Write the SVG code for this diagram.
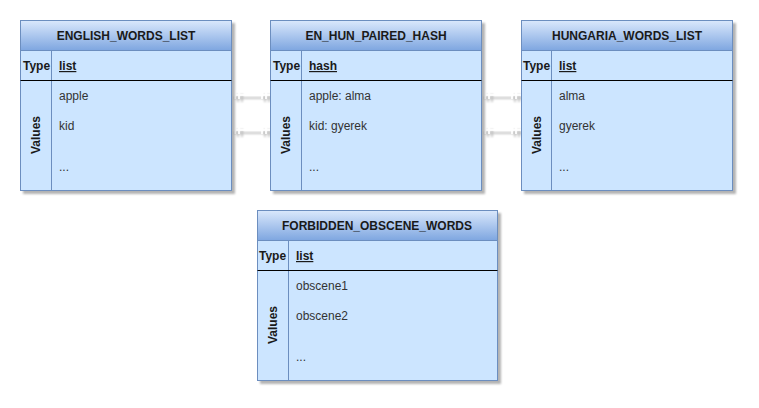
<svg xmlns="http://www.w3.org/2000/svg" width="759" height="408" viewBox="0 0 759 408">
<defs>
<linearGradient id="hg" x1="0" y1="0" x2="0" y2="1">
<stop offset="0" stop-color="#dae8fc"/>
<stop offset="1" stop-color="#7ea6e0"/>
</linearGradient>
<filter id="sh" x="-10%" y="-10%" width="130%" height="130%">
<feGaussianBlur in="SourceAlpha" stdDeviation="1"/>
<feOffset dx="3" dy="3" result="o"/>
<feComponentTransfer><feFuncA type="linear" slope="0.3"/></feComponentTransfer>
<feMerge><feMergeNode/><feMergeNode in="SourceGraphic"/></feMerge>
</filter>
</defs>
<style>
text{font-family:"Liberation Sans",Arial,sans-serif;font-size:12px;fill:#1a1a1a}
.b{font-weight:bold}
.it{fill:#333}
.u{text-decoration:underline}
.box{fill:#cce5ff;stroke:#6c8ebf;stroke-width:1}
.hd{fill:url(#hg);stroke:#6c8ebf;stroke-width:1}
.ln{stroke:#6c8ebf;stroke-width:1}
.bk{stroke:#000;stroke-width:1}
.c{stroke:#ffffff;stroke-width:1.5;fill:none}
</style>
<g id="connectors" filter="url(#sh)">
<path class="c" d="M231 95 H270 M235 91 V99 M239 91 V99 M262 91 V99 M266 91 V99"/>
<path class="c" d="M231 130 H270 M235 126 V134 M239 126 V134 M262 126 V134 M266 126 V134"/>
<path class="c" d="M481 95 H521 M485 91 V99 M489 91 V99 M512 91 V99 M516 91 V99"/>
<path class="c" d="M481 130 H521 M485 126 V134 M489 126 V134 M512 126 V134 M516 126 V134"/>
</g>
<g id="english_words_list">
<g filter="url(#sh)"><rect class="box" x="20.5" y="20.5" width="211" height="170"/></g>
<rect class="hd" x="20.5" y="20.5" width="211" height="30"/>
<line class="ln" x1="51.5" y1="50.5" x2="51.5" y2="190.5"/>
<line class="bk" x1="20.5" y1="80.5" x2="231.5" y2="80.5"/>
<text class="b" x="126" y="39.5" text-anchor="middle">ENGLISH_WORDS_LIST</text>
<text class="b" x="23" y="70">Type</text>
<text class="b u" x="59" y="70">list</text>
<text class="b" transform="translate(40 135) rotate(-90)" text-anchor="middle">Values</text>
<text class="it" x="59" y="100">apple</text>
<text class="it" x="59" y="130">kid</text>
<text class="it" x="59" y="171">...</text>
</g>
<g id="en_hun_paired_hash">
<g filter="url(#sh)"><rect class="box" x="270.5" y="20.5" width="211" height="170"/></g>
<rect class="hd" x="270.5" y="20.5" width="211" height="30"/>
<line class="ln" x1="301.5" y1="50.5" x2="301.5" y2="190.5"/>
<line class="bk" x1="270.5" y1="80.5" x2="481.5" y2="80.5"/>
<text class="b" x="376" y="39.5" text-anchor="middle">EN_HUN_PAIRED_HASH</text>
<text class="b" x="273" y="70">Type</text>
<text class="b u" x="309" y="70">hash</text>
<text class="b" transform="translate(290 135) rotate(-90)" text-anchor="middle">Values</text>
<text class="it" x="309" y="100">apple: alma</text>
<text class="it" x="309" y="130">kid: gyerek</text>
<text class="it" x="309" y="171">...</text>
</g>
<g id="hungaria_words_list">
<g filter="url(#sh)"><rect class="box" x="521.5" y="20.5" width="211" height="170"/></g>
<rect class="hd" x="521.5" y="20.5" width="211" height="30"/>
<line class="ln" x1="551.5" y1="50.5" x2="551.5" y2="190.5"/>
<line class="bk" x1="521.5" y1="80.5" x2="732.5" y2="80.5"/>
<text class="b" x="627" y="39.5" text-anchor="middle">HUNGARIA_WORDS_LIST</text>
<text class="b" x="523" y="70">Type</text>
<text class="b u" x="559" y="70">list</text>
<text class="b" transform="translate(541 135) rotate(-90)" text-anchor="middle">Values</text>
<text class="it" x="559" y="100">alma</text>
<text class="it" x="559" y="130">gyerek</text>
<text class="it" x="559" y="171">...</text>
</g>
<g id="forbidden_obscene_words">
<g filter="url(#sh)"><rect class="box" x="257.5" y="210.5" width="240" height="170"/></g>
<rect class="hd" x="257.5" y="210.5" width="240" height="30"/>
<line class="ln" x1="288.5" y1="240.5" x2="288.5" y2="380.5"/>
<line class="bk" x1="257.5" y1="270.5" x2="497.5" y2="270.5"/>
<text class="b" x="377" y="229.5" text-anchor="middle">FORBIDDEN_OBSCENE_WORDS</text>
<text class="b" x="259" y="260">Type</text>
<text class="b u" x="296" y="260">list</text>
<text class="b" transform="translate(277 325) rotate(-90)" text-anchor="middle">Values</text>
<text class="it" x="296" y="290">obscene1</text>
<text class="it" x="296" y="320">obscene2</text>
<text class="it" x="296" y="361">...</text>
</g>
</svg>
